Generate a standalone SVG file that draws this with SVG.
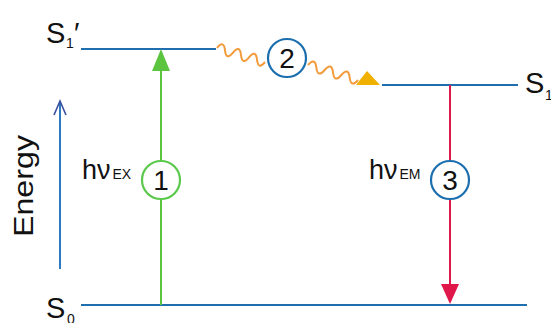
<svg xmlns="http://www.w3.org/2000/svg" width="551" height="323" viewBox="0 0 551 323">
<style>
text{font-family:"Liberation Sans",Arial,sans-serif;fill:#111}
.lvl{stroke:#1f6fb0;stroke-width:2.2;fill:none}
.lbl{font-size:29px}
.sub{font-size:14px}
.hv{font-size:27px}
.hvs{font-size:14px}
.num{font-size:28px;text-anchor:middle}
.wave{stroke:#f39a3a;stroke-width:2;fill:none}
</style>
<rect width="551" height="323" fill="#ffffff"/>
<g id="levels">
<g id="S1p"><line class="lvl" x1="81" y1="49" x2="216" y2="49"/><text class="lbl" x="46" y="43">S</text><text class="sub" x="66" y="48">1</text><text class="lbl" x="74" y="43" font-size="22">′</text></g>
<g id="S1"><line class="lvl" x1="382" y1="85" x2="518" y2="85"/><text class="lbl" x="525" y="93">S</text><text class="sub" x="545" y="100">1</text></g>
<g id="S0"><line class="lvl" x1="81" y1="305" x2="527" y2="305"/><text class="lbl" x="46" y="318">S</text><text class="sub" x="67" y="324">0</text></g>
</g>
<g id="energy">
<line x1="60" y1="269" x2="60" y2="102" stroke="#2e7bc0" stroke-width="2"/>
<polyline points="54,115 60,101 66,115" fill="none" stroke="#3b4fa0" stroke-width="1.6"/>
<text font-size="28" transform="translate(33,237) rotate(-90)" textLength="102" lengthAdjust="spacingAndGlyphs">Energy</text>
</g>
<g id="connectors">
<line x1="161" y1="305" x2="161" y2="70" stroke="#5cc540" stroke-width="2"/>
<polygon points="152,71 161,49 170,71" fill="#5cc540"/>
<line x1="450" y1="85" x2="450" y2="285" stroke="#e0174a" stroke-width="2"/>
<polygon points="441,284 450,304 459,284" fill="#e0174a"/>
<path class="wave" d="M217,48 Q223.8,39.6 225,50.33 T233,52.67 T241,55 T249,57.33 T257,59.67 T265,62"/>
<path class="wave" d="M308,65 Q315,56.7 316.33,67.5 T324.67,70 T333,72.5 T341.33,75 T349.67,77.5 T358,80"/>
<polygon points="356,85 367,71 380,85" fill="#f0b000"/>
</g>
<g id="step1">
<circle cx="161" cy="180" r="19" fill="#fff" stroke="#5ac84a" stroke-width="2.2"/>
<text class="num" x="161" y="190">1</text>
<text class="hv" x="82" y="179">hν<tspan class="hvs" dx="2">EX</tspan></text>
</g>
<g id="step2">
<circle cx="287" cy="58" r="19" fill="#fff" stroke="#1c6fae" stroke-width="2.2"/>
<text class="num" x="287" y="68">2</text>
</g>
<g id="step3">
<circle cx="450" cy="180" r="19" fill="#fff" stroke="#1c6fae" stroke-width="2.2"/>
<text class="num" x="450" y="190">3</text>
<text class="hv" x="369" y="179">hν<tspan class="hvs" dx="2">EM</tspan></text>
</g>
</svg>
